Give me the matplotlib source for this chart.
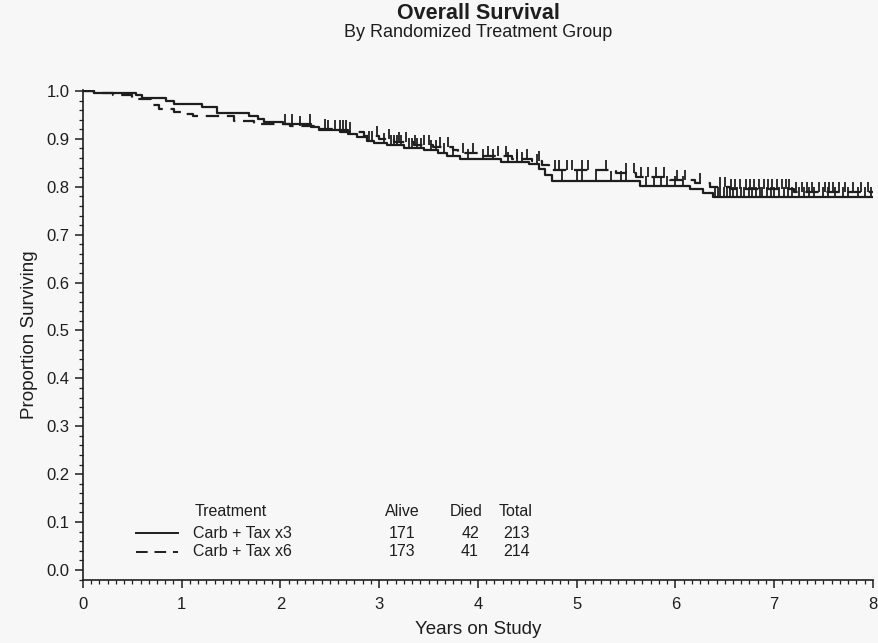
import numpy as np
import matplotlib.pyplot as plt
from matplotlib.ticker import MultipleLocator

plt.rcParams['font.family'] = ['Liberation Sans', 'DejaVu Sans']

# Kaplan-Meier steps (years, survival after the drop)
x3_times = [0.11, 0.54, 0.60, 0.84, 0.92, 1.21, 1.36, 1.68, 1.77, 1.83, 2.03, 2.31, 2.39,
            2.68, 2.78, 2.88, 2.95, 3.08, 3.25, 3.45, 3.60, 3.69, 3.82, 4.23, 4.52, 4.62,
            4.68, 4.75, 5.64, 6.15, 6.28, 6.38]
x3_surv = [0.995, 0.991, 0.986, 0.979, 0.972, 0.967, 0.953, 0.948, 0.941, 0.936, 0.931, 0.925,
           0.918, 0.910, 0.903, 0.896, 0.892, 0.8875, 0.881, 0.876, 0.871, 0.865, 0.858, 0.851,
           0.847, 0.838, 0.825, 0.8125, 0.802, 0.795, 0.788, 0.779]
x3_censor = [2.05, 2.12, 2.30, 2.48, 2.55, 2.60, 2.63, 2.66, 2.90, 2.93, 3.05, 3.12, 3.15, 3.18,
             3.22, 3.30, 3.33, 3.38, 3.42, 3.52, 3.58, 3.66, 3.75, 3.90, 4.05, 4.15, 4.30, 4.40,
             4.45, 4.60, 4.85, 5.00, 5.05, 5.20, 5.35, 5.45, 5.50, 5.70, 5.78, 5.85, 5.92, 6.00,
             6.08, 6.40, 6.43, 6.45, 6.49, 6.52, 6.55, 6.58, 6.62, 6.66, 6.70, 6.75, 6.78, 6.82,
             6.86, 6.88, 6.93, 6.97, 7.00, 7.05, 7.10, 7.14, 7.18, 7.25, 7.30, 7.35, 7.40, 7.50,
             7.55, 7.62, 7.70, 7.75, 7.85, 7.92, 7.98]

x6_times = [0.11, 0.30, 0.50, 0.69, 0.77, 0.92, 0.99, 1.11, 1.53, 1.73, 2.10, 2.40, 2.60, 2.85,
            3.00, 3.15, 3.35, 3.55, 3.75, 3.80, 4.00, 4.35, 4.55, 4.65, 4.72, 5.40, 5.60, 5.95,
            6.20, 6.35, 6.55, 7.20]
x6_surv = [0.995, 0.992, 0.984, 0.970, 0.962, 0.956, 0.951, 0.948, 0.938, 0.931, 0.927, 0.921,
           0.914, 0.906, 0.900, 0.894, 0.888, 0.882, 0.876, 0.870, 0.865, 0.859, 0.853, 0.845,
           0.835, 0.828, 0.821, 0.815, 0.808, 0.800, 0.795, 0.790]
x6_censor = [2.20, 2.45, 2.70, 2.98, 3.10, 3.20, 3.27, 3.36, 3.45, 3.50, 3.62, 3.70, 3.85, 3.95,
             4.10, 4.20, 4.28, 4.40, 4.50, 4.62, 4.78, 4.82, 4.90, 4.95, 5.05, 5.12, 5.30, 5.50,
             5.58, 5.65, 5.72, 5.80, 5.88, 6.02, 6.10, 6.25, 6.45, 6.50, 6.56, 6.60, 6.65, 6.72,
             6.76, 6.80, 6.85, 6.90, 6.94, 6.98, 7.03, 7.08, 7.12, 7.15, 7.22, 7.28, 7.33, 7.38,
             7.45, 7.52, 7.56, 7.60, 7.66, 7.72, 7.80, 7.88, 7.95]

max_follow = 8.0
groups = ['Carb + Tax x3', 'Carb + Tax x6']
alive = [171, 173]
died = [42, 41]
total = [213, 214]

bg = '#f7f7f7'
ink = '#1e1e1e'
fig = plt.figure(figsize=(8.79, 6.43), dpi=100, facecolor=bg)
ax = fig.add_axes([0.0944, 0.098, 0.8986, 0.762])
ax.set_facecolor(bg)

tick_marker = [(0, 0), (0, 1)]


def km_curve(times, surv, censor, ls):
    t = np.array([0.0] + times + [max_follow])
    s = np.array([1.0] + surv + [surv[-1]])
    ax.step(t, s, where='post', color=ink, lw=1.6, linestyle=ls)
    c = np.array(censor)
    cs = s[np.searchsorted(t, c, side='right') - 1]
    ax.plot(c, cs, linestyle='none', marker=tick_marker, markersize=14,
            markeredgewidth=1.3, color=ink)


km_curve(x3_times, x3_surv, x3_censor, '-')
km_curve(x6_times, x6_surv, x6_censor, (0, (6, 3.5)))

ax.set_xlim(0, 8)
ax.set_ylim(-0.021, 1.002)
ax.xaxis.set_major_locator(MultipleLocator(1))
ax.xaxis.set_minor_locator(MultipleLocator(1 / 12))
ax.yaxis.set_major_locator(MultipleLocator(0.1))
ax.yaxis.set_minor_locator(MultipleLocator(0.02))
ax.yaxis.set_major_formatter(plt.FormatStrFormatter('%.1f'))
ax.tick_params(which='major', direction='out', length=6, width=1.1, labelsize=12, colors=ink)
ax.tick_params(which='minor', direction='out', length=3, width=0.9, colors=ink)
ax.tick_params(axis='x', pad=6)
for side in ['top', 'right']:
    ax.spines[side].set_visible(False)
for side in ['left', 'bottom']:
    ax.spines[side].set_linewidth(1.2)
    ax.spines[side].set_color(ink)

ax.set_xlabel('Years on Study', fontsize=13.5, labelpad=7, color=ink)
ax.set_ylabel('Proportion Surviving', fontsize=13.5, labelpad=6, color=ink)

fig.text(0.544, 0.979, 'Overall Survival', ha='center', va='center',
         fontsize=15.5, fontweight='bold', color=ink)
fig.text(0.544, 0.950, 'By Randomized Treatment Group', ha='center', va='center',
         fontsize=13, color=ink)

# legend table
W, H = 879.0, 643.0
fs = 11.5
fig.text(195 / W, 1 - 512 / H, 'Treatment', fontsize=fs, va='center', color=ink)
for label, xc in zip(['Alive', 'Died', 'Total'], [402, 466, 516]):
    fig.text(xc / W, 1 - 512 / H, label, fontsize=fs, ha='center', va='center', color=ink)
row_y = [533, 552]
styles = ['-', (0, (6, 3.5))]
for i in range(2):
    yy = 1 - row_y[i] / H
    fig.add_artist(plt.Line2D([136 / W, 178 / W], [yy, yy], color=ink, lw=1.4,
                              linestyle=styles[i]))
    fig.text(193 / W, yy, groups[i], fontsize=fs, va='center', color=ink)
    fig.text(402 / W, yy, str(alive[i]), fontsize=fs, ha='center', va='center', color=ink)
    fig.text(479 / W, yy, str(died[i]), fontsize=fs, ha='right', va='center', color=ink)
    fig.text(517 / W, yy, str(total[i]), fontsize=fs, ha='center', va='center', color=ink)

fig.savefig('out.png', dpi=100, facecolor=bg)
